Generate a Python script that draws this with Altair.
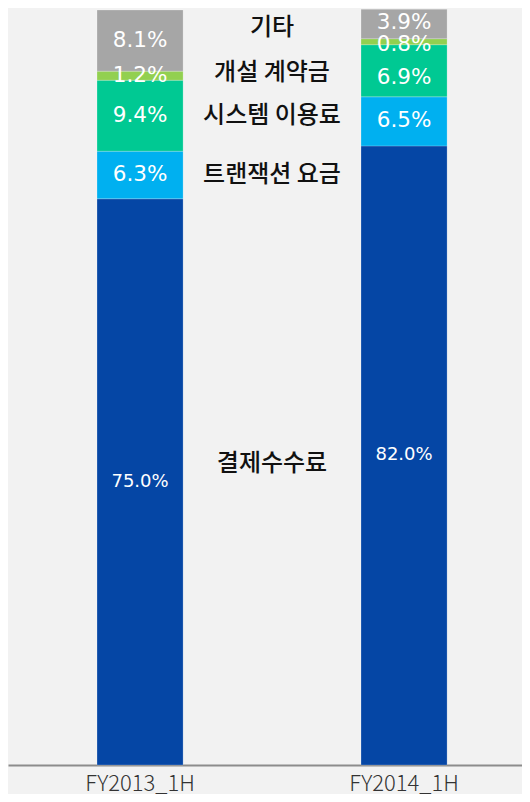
import altair as alt
import pandas as pd

periods = ["FY2013_1H", "FY2014_1H"]
categories = ["결제수수료", "트랜잭션 요금", "시스템 이용료", "개설 계약금", "기타"]
fy2013 = [75.0, 6.3, 9.4, 1.2, 8.1]
fy2014 = [82.0, 6.5, 6.9, 0.8, 3.9]
colors = ["#0546a5", "#00b0f0", "#00c993", "#92d050", "#a6a6a6"]

# pixel nudges for labels (style only)
cat_label_nudge = {"결제수수료": -18, "기타": -13, "개설 계약금": -3}
pct_nudge = {("FY2014_1H", "개설 계약금"): 3, ("FY2014_1H", "시스템 이용료"): 7, ("FY2014_1H", "기타"): -1}

W, TOTAL_H = 514, 786
LABEL_X = 264

rows = []
for p, vals in zip(periods, [fy2013, fy2014]):
    for i, (c, v) in enumerate(zip(categories, vals)):
        rows.append({"period": p, "cat": c, "val": v, "ord": i,
                     "label": f"{v:.1f}%", "nudge": pct_nudge.get((p, c), 0),
                     "fs": 18 if i == 0 else 21.5})
df = pd.DataFrame(rows)

xscale = alt.Scale(domain=periods, paddingInner=0.674, paddingOuter=0.3105, align=0.543)
yscale = alt.Scale(domain=[0, 100], nice=False, zero=True)

base = alt.Chart(df).transform_stack(
    stack="val", groupby=["period"], sort=[alt.SortField("ord", order="ascending")],
    as_=["y0", "y1"]
).transform_calculate(mid="(datum.y0 + datum.y1) / 2")

bars = base.mark_bar(stroke="#ffffff", strokeWidth=0.6, strokeOpacity=0.35).encode(
    x=alt.X("period:N", scale=xscale, title=None,
            axis=alt.Axis(labelAngle=0, labelFontSize=22, labelColor="#333333",
                          labelFont="Noto Sans CJK KR", labelFontWeight=300,
                          domainColor="#8c8c8c", domainWidth=2, ticks=False,
                          labelPadding=8)),
    y=alt.Y("y0:Q", scale=yscale, axis=None),
    y2="y1:Q",
    color=alt.Color("cat:N", scale=alt.Scale(domain=categories, range=colors), legend=None),
)

pct_layers = []
for n in sorted(set(df["nudge"])):
    pct_layers.append(
        base.transform_filter(alt.datum.nudge == n).mark_text(
            color="white", font="DejaVu Sans", dy=n
        ).encode(
            x=alt.X("period:N", scale=xscale),
            y=alt.Y("mid:Q", scale=yscale),
            text="label:N",
            size=alt.Size("fs:Q", scale=None, legend=None),
        )
    )

cat_layers = []
for n in sorted(set(cat_label_nudge.values()) | {0}):
    if n == 0:
        filt = alt.FieldOneOfPredicate(field="cat", oneOf=[c for c in categories if c not in cat_label_nudge])
    else:
        filt = alt.FieldOneOfPredicate(field="cat", oneOf=[c for c, v in cat_label_nudge.items() if v == n])
    cat_layers.append(
        base.transform_filter(alt.datum.period == periods[0]).transform_filter(filt).mark_text(
            color="#111111", fontSize=24, font="Noto Sans CJK KR", fontWeight=500, dy=n
        ).encode(
            x=alt.value(LABEL_X),
            y=alt.Y("mid:Q", scale=yscale),
            text="cat:N",
        )
    )

chart = alt.layer(bars, *pct_layers, *cat_layers).properties(
    width=W, height=TOTAL_H, padding=0, background="#f2f2f2",
    autosize=alt.AutoSizeParams(type="fit", contains="padding")
).configure_view(stroke=None)

chart.save("out.html", embed_options={"renderer": "svg", "actions": False})
